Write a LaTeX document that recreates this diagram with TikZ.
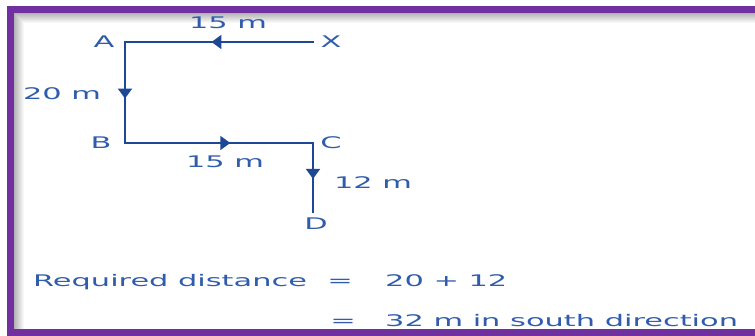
\documentclass[tikz,border=0pt]{standalone}
\usepackage{fontspec}
\newfontfamily\diagfont[FakeStretch=1.9]{DejaVu Sans}
\usetikzlibrary{arrows.meta, decorations.markings, positioning}

\definecolor{framepurple}{RGB}{112,48,160}
\definecolor{pathblue}{RGB}{30,72,150}
\definecolor{textblue}{RGB}{48,92,172}

\begin{document}
\begin{tikzpicture}[x=1pt, y=-1pt,
    lbl/.style={font=\diagfont\fontsize{16}{19}\selectfont, text=textblue, inner sep=0pt},
    route/.style={pathblue, line width=2pt, line cap=rect},
    tipat/.style={postaction={decorate}, decoration={markings,
        mark=at position #1 with {\arrow{Triangle[width=14pt, length=10pt]}}}}]

\useasboundingbox (0,0) rectangle (755,336);

% frame
\fill[framepurple] (7,6)   rectangle (755,13);
\fill[framepurple] (7,6)   rectangle (14,336);
\fill[framepurple] (7,329) rectangle (755,336);
\foreach \i in {0,...,9} {
    \fill[black!\fpeval{3*(10-\i)}] (14+\i,13+\i) rectangle (755,14+\i);
    \fill[black!\fpeval{3*(10-\i)}] (14+\i,13+\i) rectangle (15+\i,329);
}

% corner points
\coordinate (X) at (313,42);
\coordinate (A) at (125,42);
\coordinate (B) at (125,143);
\coordinate (C) at (313,143);
\coordinate (D) at (313,212);

% walk
\draw[route, tipat=0.54] (X) -- (A);
\draw[route, tipat=0.56] (A) -- (B);
\draw[route, tipat=0.56] (B) -- (C);
\draw[route, tipat=0.52] (C) -- (D);

% letters
\node[lbl] (labX) at (331,42)  {X};
\node[lbl] (labA) at (104,42)  {A};
\node[lbl] (labB) at (101,143) {B};
\node[lbl] (labC) at (331,143) {C};
\node[lbl] (labD) at (316,224) {D};

% lengths
\node[lbl] (lenXA) at (228,23)  {15 m};
\node[lbl] (lenAB) at (62,94)   {20 m};
\node[lbl] (lenBC) at (225,162) {15 m};
\node[lbl] (lenCD) at (373,183) {12 m};

% answer
\node[lbl, anchor=base west] (req) at (33,287)  {Required distance};
\node[lbl, anchor=base]      (eq1) at (340,287) {=};
\node[lbl, anchor=base west] (sum) at (385,287) {20 + 12};
\node[lbl, anchor=base]      (eq2) at (343,327) {=};
\node[lbl, anchor=base west] (res) at (385,327) {32 m in south direction};

\end{tikzpicture}
\end{document}
